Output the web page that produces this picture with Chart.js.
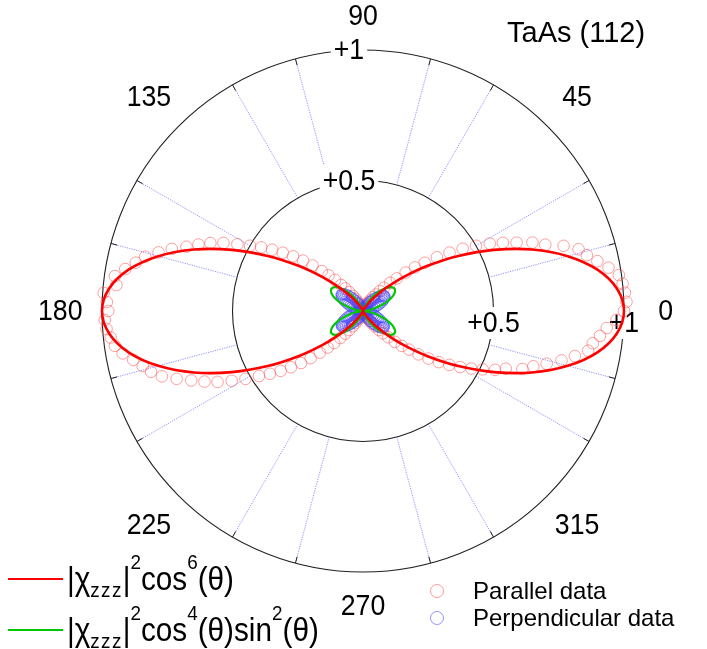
<!DOCTYPE html>
<html><head><meta charset="utf-8">
<script src="https://cdn.jsdelivr.net/npm/chart.js@4.4.1/dist/chart.umd.min.js"></script>
<style>
html,body{margin:0;padding:0;background:#fff;}
#wrap{position:relative;width:707px;height:649px;overflow:hidden;font-family:'Liberation Sans',Arial,Helvetica,sans-serif;color:#000;}
canvas{position:absolute;left:0;top:0;}
.t{position:absolute;white-space:nowrap;transform-origin:0 0;}
.sb{font-size:21px;position:relative;top:7px;letter-spacing:1.5px;}
.sp{font-size:21px;position:relative;top:-21px;}
.sw{position:absolute;height:2px;}
.mk{position:absolute;width:12px;height:12px;border:1.5px solid;border-radius:50%;}
</style></head><body>
<div id="wrap">
<canvas id="c" width="707" height="649"></canvas>
<div class="t" style="left:507px;top:18px;font-size:29px;line-height:29px;transform:scaleX(1.0)">TaAs (112)</div>
<div class="sw" style="left:8px;top:578px;width:55px;background:#ff0000"></div>
<div class="t" style="left:67px;top:562px;font-size:33px;line-height:33px;transform:scaleX(0.9)">|χ<span class="sb">zzz</span>|<span class="sp">2</span>cos<span class="sp">6</span>(θ)</div>
<div class="sw" style="left:8px;top:629px;width:55px;background:#00c800"></div>
<div class="t" style="left:67px;top:613px;font-size:33px;line-height:33px;transform:scaleX(0.9)">|χ<span class="sb">zzz</span>|<span class="sp">2</span>cos<span class="sp">4</span>(θ)sin<span class="sp">2</span>(θ)</div>
<div class="mk" style="left:430px;top:584px;border-color:rgba(255,90,90,0.6)"></div>
<div class="t" style="left:473px;top:579px;font-size:24px;line-height:24px;">Parallel data</div>
<div class="mk" style="left:430px;top:611px;border-color:rgba(80,80,255,0.6)"></div>
<div class="t" style="left:473px;top:606px;font-size:24px;line-height:24px;">Perpendicular data</div>
</div>
<script>
// ---- angle categories / labels ----
const angleTickLabels = ['0','45','90','135','180','225','270','315'];
const radialTickLabels = ['+0.5','+1'];
const radialTickValues = [0.5, 1];
const minorSpokeAngles = [15,30,60,75,105,120,150,165,195,210,240,255,285,300,330,345];

// ---- fit curves, theta = 0,5,10,...,355 ----
const fitStep = 5;
const fitCos6 = [
 1,.977,.912,.812,.689,.554,.422,.302,.202,.125,.071,.036,.016,.006,.002,.0003,0,0,
 0,0,0,.0003,.002,.006,.016,.036,.071,.125,.202,.302,.422,.554,.689,.812,.912,.977,
 1,.977,.912,.812,.689,.554,.422,.302,.202,.125,.071,.036,.016,.006,.002,.0003,0,0,
 0,0,0,.0003,.002,.006,.016,.036,.071,.125,.202,.302,.422,.554,.689,.812,.912,.977
];
const fitCos4Sin2 = [
 0,.0075,.0284,.0583,.0912,.1205,.1406,.1481,.1423,.125,.1002,.0726,.0469,.0262,.0121,.0042,.0008,0,
 0,0,.0008,.0042,.0121,.0262,.0469,.0726,.1002,.125,.1423,.1481,.1406,.1205,.0912,.0583,.0284,.0075,
 0,.0075,.0284,.0583,.0912,.1205,.1406,.1481,.1423,.125,.1002,.0726,.0469,.0262,.0121,.0042,.0008,0,
 0,0,.0008,.0042,.0121,.0262,.0469,.0726,.1002,.125,.1423,.1481,.1406,.1205,.0912,.0583,.0284,.0075
];

// ---- measured data, theta = 0,2,4,...,358 ----
const dataStep = 2;
const parallelData = [
 1.00,1.01,1.006,1.00,0.99,0.955,0.918,0.884,0.859,0.808,
 0.743,0.70,0.644,0.596,0.55,0.50,0.45,0.40,0.35,0.30,
 0.26,0.22,0.18,0.15,0.12,0.10,0.08,0.065,0.05,0.04,
 0.03,0.022,0.016,0.011,0.008,0.005,0.003,0.002,0.001,0.001,
 0,0,0,0,0,
 0,0,0,0,0,0.001,0.001,0.002,0.003,0.005,
 0.008,0.012,0.017,0.024,0.032,0.042,0.055,0.07,0.09,0.11,
 0.13,0.16,0.19,0.22,0.26,0.30,0.34,0.38,0.42,0.46,
 0.50,0.545,0.595,0.64,0.68,0.72,0.77,0.815,0.86,0.89,
 0.925,0.96,0.95,0.996,0.982,
 0.976,0.99,0.985,0.972,0.96,0.935,0.90,0.87,0.845,0.81,
 0.76,0.71,0.665,0.62,0.57,0.52,0.47,0.43,0.39,0.35,
 0.31,0.27,0.23,0.195,0.165,0.135,0.11,0.09,0.07,0.055,
 0.042,0.032,0.024,0.017,0.012,0.008,0.005,0.003,0.002,0.001,
 0.001,0,0,0,0,
 0,0,0,0,0,0,0.001,0.001,0.002,0.003,
 0.005,0.007,0.01,0.014,0.02,0.027,0.036,0.047,0.06,0.075,
 0.095,0.115,0.14,0.17,0.20,0.23,0.27,0.31,0.35,0.39,
 0.43,0.47,0.51,0.554,0.59,0.65,0.686,0.732,0.784,0.83,
 0.876,0.889,0.913,0.936,0.972
];
const perpendicularData = [
 0,0.003,0.006,0.01,0.015,0.02,0.026,0.033,0.04,0.048,
 0.056,0.064,0.072,0.08,0.087,0.093,0.098,0.1,0.1,0.097,
 0.092,0.085,0.077,0.069,0.06,0.052,0.044,0.037,0.03,0.024,
 0.019,0.014,0.01,0.007,0.005,0.003,0.002,0.001,0.001,0,
 0,0,0,0,0,
 0,0,0,0,0,0,0.001,0.001,0.002,0.003,
 0.005,0.007,0.01,0.014,0.019,0.025,0.031,0.038,0.046,0.055,
 0.064,0.073,0.082,0.09,0.097,0.102,0.104,0.102,0.098,0.092,
 0.085,0.077,0.068,0.06,0.052,0.044,0.037,0.03,0.024,0.018,
 0.013,0.009,0.006,0.003,0.001,
 0,0.002,0.005,0.009,0.013,0.018,0.024,0.031,0.038,0.046,
 0.054,0.062,0.07,0.078,0.085,0.091,0.096,0.099,0.1,0.098,
 0.094,0.088,0.08,0.072,0.063,0.055,0.047,0.039,0.032,0.026,
 0.02,0.015,0.011,0.007,0.005,0.003,0.002,0.001,0.001,0,
 0,0,0,0,0,
 0,0,0,0,0,0,0.001,0.001,0.002,0.003,
 0.005,0.007,0.01,0.014,0.019,0.025,0.032,0.04,0.048,0.057,
 0.066,0.075,0.083,0.09,0.096,0.1,0.101,0.1,0.096,0.09,
 0.083,0.075,0.066,0.058,0.05,0.042,0.035,0.028,0.022,0.016,
 0.012,0.008,0.005,0.002,0.001
];

// radar categories: one per degree, index 0 at top, clockwise
const N = 360;
const thetaOfIndex = Array.from({length: N}, (_, i) => (90 - i + 360) % 360);
const idx = th => ((90 - th) % 360 + 360) % 360;
function toRadar(values, step){
  const arr = new Array(N).fill(null);
  values.forEach((v, k) => { arr[idx(k * step)] = v; });
  return arr;
}

const FONT = "'Liberation Sans', Arial, Helvetica, sans-serif";
function sxText(ctx, txt, x, y, sx){
  ctx.save(); ctx.translate(x, y); ctx.scale(sx, 1); ctx.fillText(txt, 0, 0); ctx.restore();
}

const decor = {
  id: 'decor',
  beforeDatasetsDraw(chart){
    const s = chart.scales.r, ctx = chart.ctx;
    ctx.save();
    // minor blue dotted spokes from 0.5 to 1
    ctx.strokeStyle = 'rgba(110,110,255,0.85)';
    ctx.lineWidth = 0.9;
    ctx.setLineDash([1.2, 1.2]);
    minorSpokeAngles.forEach(th => {
      const a = s.getPointPositionForValue(idx(th), 0.5);
      const b = s.getPointPositionForValue(idx(th), 1);
      ctx.beginPath(); ctx.moveTo(a.x, a.y); ctx.lineTo(b.x, b.y); ctx.stroke();
    });
    // small black ticks on outer circle
    ctx.setLineDash([]);
    ctx.strokeStyle = '#222'; ctx.lineWidth = 1;
    minorSpokeAngles.forEach(th => {
      const a = s.getPointPositionForValue(idx(th), 0.975);
      const b = s.getPointPositionForValue(idx(th), 1);
      ctx.beginPath(); ctx.moveTo(a.x, a.y); ctx.lineTo(b.x, b.y); ctx.stroke();
    });
    // radial tick labels with white backdrop (along 90 and along 0)
    ctx.font = '29px ' + FONT;
    ctx.textAlign = 'center'; ctx.textBaseline = 'middle';
    const sx = 0.92;
    radialTickLabels.forEach((lab, k) => {
      const v = radialTickValues[k];
      const w = ctx.measureText(lab).width * sx;
      const top = s.getPointPositionForValue(idx(90), v);
      const rt = s.getPointPositionForValue(idx(0), v);
      [[top.x - 14, top.y], [rt.x, rt.y + 12]].forEach(([x, y]) => {
        ctx.fillStyle = '#fff';
        ctx.fillRect(x - w/2 - 3, y - 16, w + 6, 32);
        ctx.fillStyle = '#000';
        sxText(ctx, lab, x, y + 1, sx);
      });
    });
    // angle labels
    angleTickLabels.forEach(lab => {
      const th = +lab;
      const rr = (th === 90 || th === 270) ? 1.13 : 1.16;
      const p = s.getPointPositionForValue(idx(th), rr);
      ctx.fillStyle = '#000';
      sxText(ctx, lab, p.x, p.y + 1, sx);
    });
    ctx.restore();
  }
};

new Chart(document.getElementById('c'), {
  type: 'radar',
  data: {
    labels: thetaOfIndex,
    datasets: [
      { label: 'cos6', data: toRadar(fitCos6, fitStep), borderColor: '#ff0000', borderWidth: 2.6,
        pointRadius: 0, fill: false, tension: 0.35, spanGaps: true, order: 0, clip: false },
      { label: 'cos4sin2', data: toRadar(fitCos4Sin2, fitStep), borderColor: '#00c800', borderWidth: 2.2,
        pointRadius: 0, fill: false, tension: 0.35, spanGaps: true, order: 1, clip: false },
      { label: 'Perpendicular data', data: toRadar(perpendicularData, dataStep), showLine: false,
        pointRadius: 5.5, pointBorderWidth: 1, pointBorderColor: 'rgba(70,70,255,0.55)',
        pointBackgroundColor: 'rgba(0,0,0,0)', order: 2, clip: false },
      { label: 'Parallel data', data: toRadar(parallelData, dataStep), showLine: false,
        pointRadius: 5.8, pointBorderWidth: 1, pointBorderColor: 'rgba(255,80,80,0.55)',
        pointBackgroundColor: 'rgba(0,0,0,0)', order: 3, clip: false }
    ]
  },
  options: {
    responsive: false,
    animation: false,
    events: [],
    layout: { padding: { left: 102, right: 83, top: 50, bottom: 77 } },
    plugins: { legend: { display: false }, tooltip: { enabled: false } },
    scales: {
      r: {
        min: 0, max: 1,
        startAngle: 0,
        ticks: { stepSize: 0.5, display: false },
        grid: { circular: true, color: '#222', lineWidth: 1.1 },
        angleLines: {
          display: (c) => (thetaOfIndex[c.index] % 45 === 0),
          color: '#222', lineWidth: 1.1
        },
        pointLabels: { display: false }
      }
    }
  },
  plugins: [decor]
});
</script>
</body></html>
